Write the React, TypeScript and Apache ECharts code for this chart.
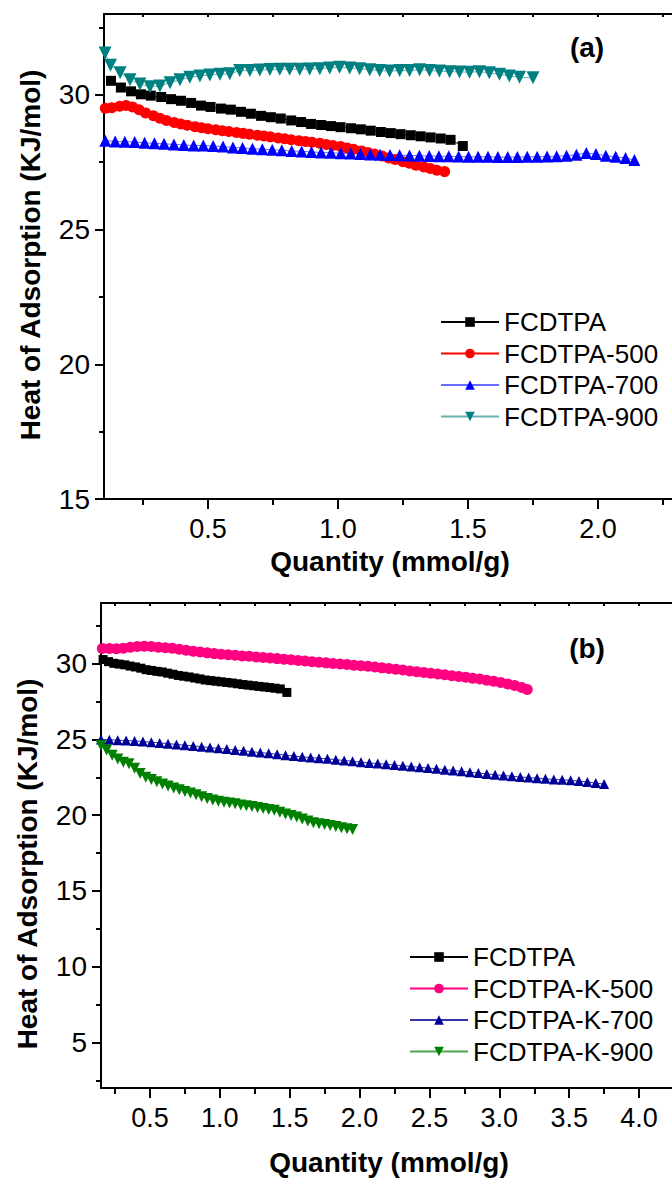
import React, { useEffect, useRef } from "react";
import * as echarts from "echarts";

type P = [number, number];

// Panel (a)
const fcdtpa: P[] = [
  [0.127, 30.52], [0.165, 30.27], [0.204, 30.13], [0.242, 30.02], [0.28, 29.97], [0.32, 29.92],
  [0.358, 29.84], [0.396, 29.78], [0.435, 29.7], [0.473, 29.6], [0.51, 29.55], [0.55, 29.49],
  [0.588, 29.45], [0.627, 29.37], [0.665, 29.3], [0.704, 29.22], [0.742, 29.17], [0.78, 29.12],
  [0.82, 29.05], [0.858, 28.99], [0.896, 28.92], [0.935, 28.88], [0.973, 28.84], [1.01, 28.8],
  [1.05, 28.76], [1.088, 28.72], [1.126, 28.67], [1.165, 28.62], [1.203, 28.58], [1.241, 28.54],
  [1.28, 28.5], [1.318, 28.46], [1.356, 28.42], [1.395, 28.38], [1.433, 28.33], [1.48, 28.1],
];

const fcdtpa500: P[] = [
  [0.105, 29.5], [0.13, 29.52], [0.16, 29.58], [0.185, 29.6], [0.21, 29.55], [0.235, 29.45],
  [0.26, 29.33], [0.29, 29.22], [0.315, 29.13], [0.34, 29.05], [0.37, 28.97], [0.395, 28.92],
  [0.42, 28.87], [0.45, 28.82], [0.475, 28.78], [0.5, 28.74], [0.53, 28.7], [0.555, 28.67],
  [0.58, 28.64], [0.61, 28.6], [0.635, 28.57], [0.66, 28.54], [0.69, 28.5], [0.715, 28.47],
  [0.74, 28.44], [0.77, 28.4], [0.795, 28.37], [0.82, 28.33], [0.85, 28.3], [0.875, 28.27],
  [0.9, 28.24], [0.93, 28.2], [0.955, 28.16], [0.98, 28.12], [1.01, 28.08], [1.035, 28.03],
  [1.06, 27.98], [1.09, 27.92], [1.115, 27.86], [1.14, 27.8], [1.17, 27.73], [1.195, 27.66],
  [1.22, 27.6], [1.25, 27.52], [1.275, 27.46], [1.3, 27.39], [1.33, 27.32], [1.355, 27.27],
  [1.38, 27.2], [1.41, 27.15],
];

const fcdtpa700: P[] = [
  [0.105, 28.3], [0.143, 28.27], [0.18, 28.26], [0.218, 28.25], [0.256, 28.22], [0.294, 28.2],
  [0.331, 28.18], [0.369, 28.16], [0.407, 28.14], [0.445, 28.12], [0.482, 28.12], [0.52, 28.1],
  [0.558, 28.08], [0.596, 28.05], [0.633, 28.03], [0.671, 28.0], [0.709, 27.98], [0.747, 27.96],
  [0.784, 27.94], [0.822, 27.92], [0.86, 27.9], [0.898, 27.88], [0.935, 27.86], [0.973, 27.85],
  [1.011, 27.83], [1.049, 27.82], [1.086, 27.8], [1.124, 27.79], [1.162, 27.78], [1.2, 27.77],
  [1.237, 27.76], [1.275, 27.75], [1.313, 27.74], [1.351, 27.73], [1.388, 27.72], [1.426, 27.72],
  [1.464, 27.71], [1.502, 27.7], [1.539, 27.7], [1.577, 27.7], [1.615, 27.69], [1.653, 27.69],
  [1.69, 27.69], [1.728, 27.7], [1.766, 27.7], [1.804, 27.71], [1.841, 27.72], [1.879, 27.74],
  [1.917, 27.78], [1.955, 27.84], [1.992, 27.8], [2.03, 27.74], [2.068, 27.7], [2.106, 27.66],
  [2.14, 27.58],
];

const fcdtpa900: P[] = [
  [0.104, 31.55], [0.125, 31.1], [0.162, 30.82], [0.2, 30.56], [0.238, 30.4], [0.277, 30.3],
  [0.315, 30.33], [0.354, 30.45], [0.392, 30.56], [0.43, 30.65], [0.469, 30.7], [0.507, 30.74],
  [0.546, 30.76], [0.584, 30.78], [0.622, 30.9], [0.661, 30.9], [0.699, 30.92], [0.738, 30.94],
  [0.776, 30.95], [0.814, 30.95], [0.853, 30.95], [0.891, 30.96], [0.93, 30.97], [0.968, 31.0],
  [1.006, 31.02], [1.045, 31.0], [1.083, 30.97], [1.122, 30.93], [1.16, 30.9], [1.198, 30.88],
  [1.237, 30.9], [1.275, 30.9], [1.314, 30.93], [1.352, 30.9], [1.39, 30.88], [1.429, 30.86],
  [1.467, 30.85], [1.506, 30.84], [1.544, 30.86], [1.582, 30.82], [1.621, 30.76], [1.659, 30.7],
  [1.698, 30.65], [1.75, 30.63],
];

// Panel (b)
const fcdtpaK500: P[] = [
  [0.16, 31.0], [0.21, 31.0], [0.26, 30.98], [0.31, 31.02], [0.36, 31.08], [0.41, 31.13],
  [0.46, 31.15], [0.51, 31.13], [0.56, 31.08], [0.61, 31.05], [0.66, 31.02], [0.71, 30.95],
  [0.76, 30.88], [0.81, 30.82], [0.86, 30.76], [0.91, 30.71], [0.96, 30.66], [1.01, 30.62],
  [1.06, 30.58], [1.11, 30.55], [1.16, 30.51], [1.21, 30.48], [1.26, 30.44], [1.31, 30.4],
  [1.36, 30.37], [1.41, 30.33], [1.46, 30.29], [1.51, 30.25], [1.56, 30.21], [1.61, 30.17],
  [1.66, 30.13], [1.71, 30.09], [1.76, 30.05], [1.81, 30.01], [1.86, 29.97], [1.91, 29.94],
  [1.96, 29.9], [2.01, 29.86], [2.06, 29.82], [2.11, 29.77], [2.16, 29.72], [2.21, 29.68],
  [2.26, 29.63], [2.31, 29.58], [2.36, 29.52], [2.41, 29.47], [2.46, 29.41], [2.51, 29.36],
  [2.56, 29.31], [2.61, 29.26], [2.66, 29.2], [2.71, 29.15], [2.76, 29.1], [2.81, 29.04],
  [2.86, 28.98], [2.91, 28.91], [2.96, 28.84], [3.01, 28.76], [3.06, 28.66], [3.11, 28.55],
  [3.16, 28.42], [3.2, 28.3],
];

const fcdtpaK700: P[] = [
  [0.15, 25.0], [0.21, 24.98], [0.27, 24.95], [0.33, 24.92], [0.39, 24.9], [0.45, 24.86],
  [0.51, 24.82], [0.57, 24.77], [0.63, 24.72], [0.69, 24.67], [0.75, 24.62], [0.81, 24.57],
  [0.87, 24.52], [0.93, 24.46], [0.99, 24.41], [1.05, 24.36], [1.11, 24.3], [1.17, 24.25],
  [1.23, 24.19], [1.29, 24.13], [1.35, 24.08], [1.41, 24.02], [1.47, 23.96], [1.53, 23.9],
  [1.59, 23.85], [1.65, 23.8], [1.71, 23.76], [1.77, 23.72], [1.83, 23.66], [1.89, 23.61],
  [1.95, 23.56], [2.01, 23.5], [2.07, 23.45], [2.13, 23.41], [2.19, 23.36], [2.25, 23.31],
  [2.31, 23.26], [2.37, 23.21], [2.43, 23.16], [2.49, 23.11], [2.55, 23.06], [2.61, 23.0],
  [2.67, 22.95], [2.73, 22.9], [2.79, 22.84], [2.85, 22.78], [2.91, 22.72], [2.97, 22.67],
  [3.03, 22.62], [3.09, 22.57], [3.15, 22.52], [3.21, 22.48], [3.27, 22.44], [3.33, 22.4],
  [3.39, 22.36], [3.45, 22.33], [3.51, 22.3], [3.57, 22.25], [3.63, 22.19], [3.69, 22.12],
  [3.75, 22.05],
];

const fcdtpaK900: P[] = [
  [0.15, 24.6], [0.19, 24.3], [0.23, 23.95], [0.27, 23.7], [0.31, 23.5], [0.35, 23.4],
  [0.39, 23.1], [0.43, 22.75], [0.47, 22.5], [0.51, 22.35], [0.55, 22.2], [0.59, 22.05],
  [0.63, 21.93], [0.67, 21.8], [0.71, 21.68], [0.75, 21.57], [0.79, 21.47], [0.83, 21.35],
  [0.87, 21.22], [0.91, 21.1], [0.95, 21.0], [0.99, 20.92], [1.03, 20.86], [1.07, 20.8],
  [1.11, 20.75], [1.15, 20.68], [1.19, 20.62], [1.23, 20.57], [1.27, 20.5], [1.31, 20.44],
  [1.35, 20.38], [1.39, 20.32], [1.43, 20.2], [1.47, 20.08], [1.51, 19.98], [1.55, 19.88],
  [1.59, 19.75], [1.63, 19.62], [1.67, 19.5], [1.71, 19.44], [1.75, 19.38], [1.79, 19.32],
  [1.83, 19.25], [1.87, 19.17], [1.91, 19.1], [1.95, 19.05],
];

const namesA = ["FCDTPA", "FCDTPA-500", "FCDTPA-700", "FCDTPA-900"];
const namesB = ["FCDTPA", "FCDTPA-K-500", "FCDTPA-K-700", "FCDTPA-K-900"];

const xLabelsA = [0.5, 1.0, 1.5, 2.0];
const xMinorA = [0.25, 0.75, 1.25, 1.75, 2.25];
const xAllA = [0.25, 0.5, 0.75, 1.0, 1.25, 1.5, 1.75, 2.0, 2.25];
const yLabelsA = [15, 20, 25, 30];
const yMinorA = [17.5, 22.5, 27.5, 32.5];

const xLabelsB = [0.5, 1.0, 1.5, 2.0, 2.5, 3.0, 3.5, 4.0];
const xMinorB = [0.25, 0.75, 1.25, 1.75, 2.25, 2.75, 3.25, 3.75, 4.25];
const xAllB = [0.25, 0.5, 0.75, 1.0, 1.25, 1.5, 1.75, 2.0, 2.25, 2.5, 2.75, 3.0, 3.25, 3.5, 3.75, 4.0, 4.25];
const yLabelsB = [5, 10, 15, 20, 25, 30];
const yMinorB = [2.5, 7.5, 12.5, 17.5, 22.5, 27.5, 32.5];

const FONT = "'Liberation Sans', Arial, sans-serif";

function mainX(grid: number, min: number, max: number, labels: number[]) {
  return {
    type: "value", gridIndex: grid, position: "bottom", min, max,
    axisLine: { show: true, onZero: false, lineStyle: { color: "#000", width: 2 } },
    axisTick: { show: true, inside: false, length: 10, lineStyle: { color: "#000", width: 2 }, customValues: labels },
    axisLabel: {
      show: true, customValues: labels, margin: 16, color: "#000", fontSize: 27, fontFamily: FONT,
      formatter: (v: number) => v.toFixed(1),
    },
    splitLine: { show: false },
  };
}
function minorX(grid: number, min: number, max: number, vals: number[], pos: string, len: number, inside: boolean, line: boolean) {
  return {
    type: "value", gridIndex: grid, position: pos, min, max,
    axisLine: { show: line, onZero: false, lineStyle: { color: "#000", width: 2 } },
    axisTick: { show: true, inside, length: len, lineStyle: { color: "#000", width: 2 }, customValues: vals },
    axisLabel: { show: false },
    splitLine: { show: false },
  };
}
function mainY(grid: number, min: number, max: number, labels: number[]) {
  return {
    type: "value", gridIndex: grid, position: "left", min, max,
    axisLine: { show: true, onZero: false, lineStyle: { color: "#000", width: 2 } },
    axisTick: { show: true, inside: false, length: 9, lineStyle: { color: "#000", width: 2 }, customValues: labels },
    axisLabel: { show: true, customValues: labels, margin: 14, color: "#000", fontSize: 28, fontFamily: FONT },
    splitLine: { show: false },
  };
}
function minorY(grid: number, min: number, max: number, vals: number[]) {
  return {
    type: "value", gridIndex: grid, position: "left", min, max,
    axisLine: { show: false, onZero: false },
    axisTick: { show: true, inside: false, length: 5, lineStyle: { color: "#000", width: 2 }, customValues: vals },
    axisLabel: { show: false },
    splitLine: { show: false },
  };
}

function ser(name: string, data: P[], xi: number, yi: number, symbol: string, size: number, color: string, lineColor: string, rotate = 0) {
  return {
    type: "line", name, data, xAxisIndex: xi, yAxisIndex: yi, symbol, symbolSize: size, symbolRotate: rotate,
    showSymbol: true, itemStyle: { color }, lineStyle: { color: lineColor, width: 1 }, emphasis: { disabled: true },
  };
}

export default function App() {
  const ref = useRef<HTMLDivElement>(null);
  useEffect(() => {
    if (!ref.current) return;
    const chart = echarts.init(ref.current, null, { renderer: "svg" });
    const legendCommon = {
      orient: "vertical", padding: 0, itemWidth: 58, itemHeight: 12, itemGap: 5.5, selectedMode: false,
      textStyle: { fontSize: 26, fontFamily: FONT, color: "#000" },
    };
    const titleStyle = (text: string) => ({
      text, font: `bold 28px ${FONT}`, fill: "#000", align: "center", verticalAlign: "middle",
      textAlign: "center", textVerticalAlign: "middle",
    });
    chart.setOption({
      animation: false,
      backgroundColor: "#fff",
      grid: [
        { left: 104, top: 14, width: 585, height: 485, containLabel: false, outerBoundsMode: "none" },
        { left: 101, top: 603, width: 587, height: 485, containLabel: false, outerBoundsMode: "none" },
      ],
      xAxis: [
        mainX(0, 0.1, 2.35, xLabelsA),
        minorX(0, 0.1, 2.35, xMinorA, "bottom", 6, false, false),
        minorX(0, 0.1, 2.35, xAllA, "top", 3, true, true),
        mainX(1, 0.15, 4.35, xLabelsB),
        minorX(1, 0.15, 4.35, xMinorB, "bottom", 6, false, false),
        minorX(1, 0.15, 4.35, xAllB, "top", 3, true, true),
      ],
      yAxis: [
        mainY(0, 15, 33, yLabelsA),
        minorY(0, 15, 33, yMinorA),
        mainY(1, 2, 34, yLabelsB),
        minorY(1, 2, 34, yMinorB),
      ],
      legend: [
        { ...legendCommon, data: namesA, left: 440, top: 309 },
        { ...legendCommon, data: namesB, left: 409, top: 944 },
      ],
      series: [
        ser(namesA[0], fcdtpa, 0, 0, "rect", 10, "#000000", "#000000"),
        ser(namesA[1], fcdtpa500, 0, 0, "circle", 11, "#ff0000", "#ff0000"),
        ser(namesA[2], fcdtpa700, 0, 0, "triangle", 12, "#0000ff", "#6a6aff"),
        ser(namesA[3], fcdtpa900, 0, 0, "triangle", 13, "#008080", "#66b3b3", 180),
        ser(namesB[0], fcdtpa, 3, 2, "rect", 9, "#000000", "#000000"),
        ser(namesB[1], fcdtpaK500, 3, 2, "circle", 11, "#ff0080", "#ff0080"),
        ser(namesB[2], fcdtpaK700, 3, 2, "triangle", 10, "#000099", "#3333aa"),
        ser(namesB[3], fcdtpaK900, 3, 2, "triangle", 11, "#008000", "#4da64d", 180),
      ],
      graphic: [
        { type: "text", x: 30, y: 255, rotation: Math.PI / 2, style: titleStyle("Heat of Adsorption (KJ/mol)") },
        { type: "text", x: 27, y: 864, rotation: Math.PI / 2, style: titleStyle("Heat of Adsorption (KJ/mol)") },
        { type: "text", x: 390, y: 561, style: titleStyle("Quantity (mmol/g)") },
        { type: "text", x: 389, y: 1162, style: titleStyle("Quantity (mmol/g)") },
        { type: "text", x: 587, y: 47, style: titleStyle("(a)") },
        { type: "text", x: 587, y: 648, style: titleStyle("(b)") },
      ],
    });
    return () => chart.dispose();
  }, []);
  return (
    <div style={{ position: "fixed", left: 0, top: 0, width: 672, height: 1183, overflow: "hidden", background: "#fff" }}>
      <div ref={ref} style={{ width: 720, height: 1183 }} />
    </div>
  );
}
